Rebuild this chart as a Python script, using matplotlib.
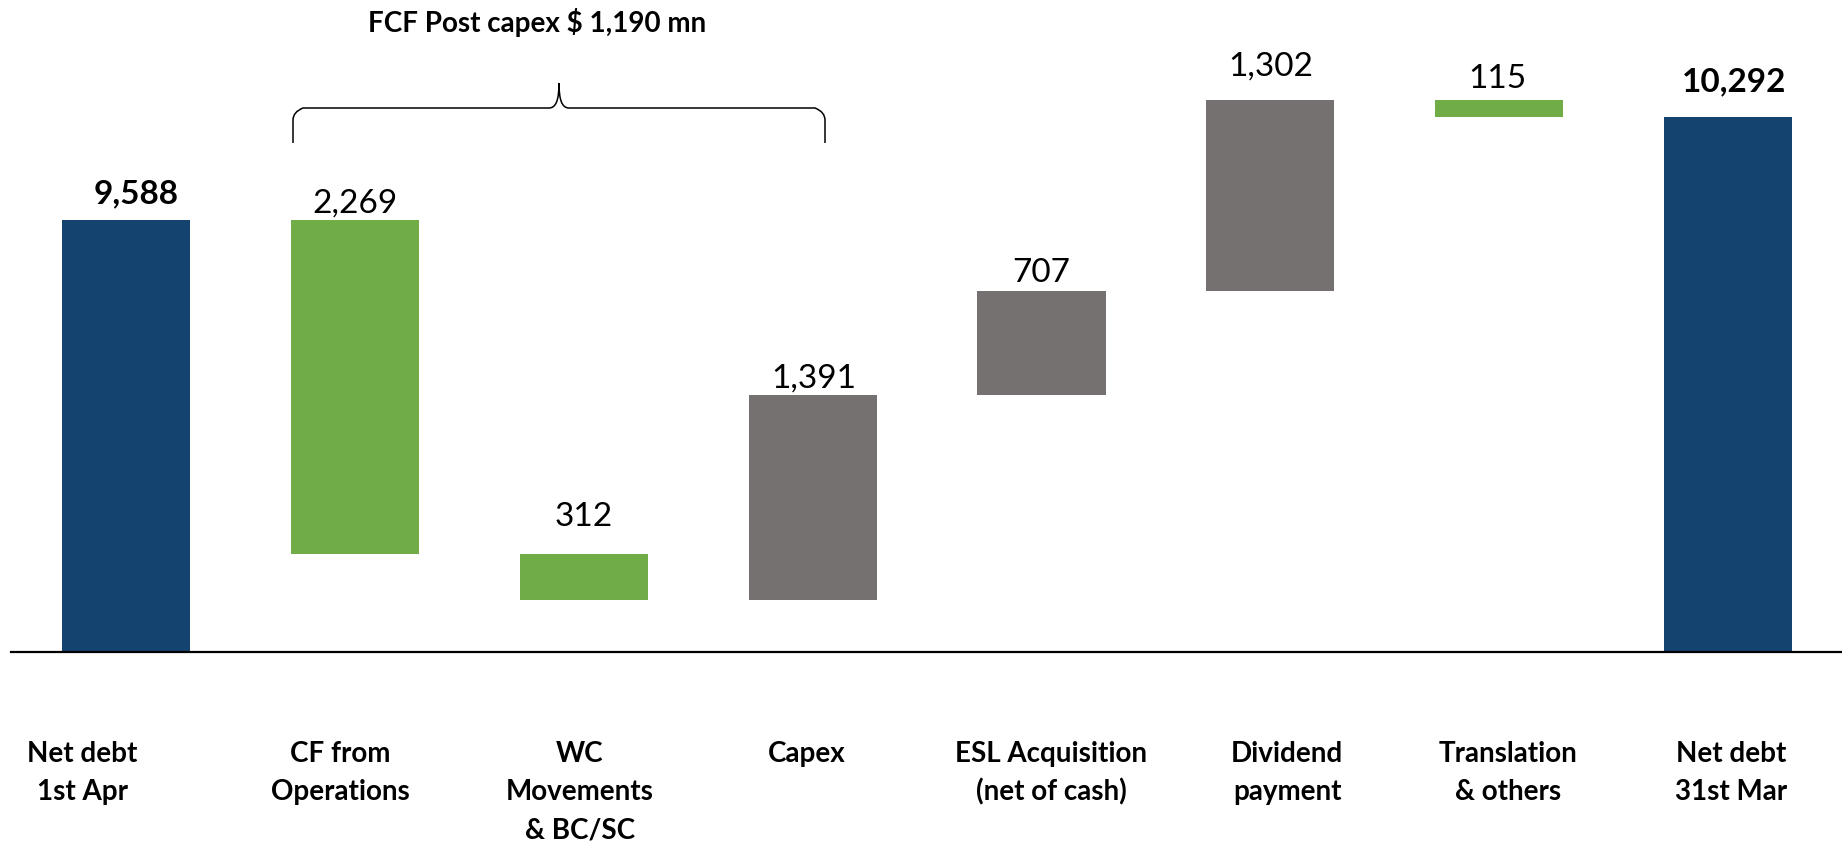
import numpy as np
import matplotlib
import matplotlib.pyplot as plt
from matplotlib.path import Path
from matplotlib.patches import PathPatch

matplotlib.use('Agg')
plt.rcParams['font.family'] = ['Lato', 'DejaVu Sans']

# data
categories = ["Net debt\n1st Apr", "CF from\nOperations", "WC\nMovements\n& BC/SC", "Capex",
              "ESL Acquisition\n(net of cash)", "Dividend\npayment", "Translation\n& others",
              "Net debt\n31st Mar"]
opening = 9588
changes = [-2269, -312, 1391, 707, 1302, -115]
closing = 10292
fcf_note = "FCF Post capex $ 1,190 mn"

navy = "#15436F"
green = "#70AD47"
grey = "#767171"

W, H = 1842, 843
fig = plt.figure(figsize=(W / 100, H / 100), dpi=100)
ax = fig.add_axes([11 / W, 1 - 652 / H, 1 - 11 / W, 652 / H])

levels = opening + np.cumsum([0] + changes)
x = np.arange(len(categories))
bw = 0.56

# totals
ax.bar(x[0], opening, width=bw, color=navy, zorder=2)
ax.bar(x[-1], closing, width=bw, color=navy, zorder=2)

# steps
tops = [opening]
for i, ch in enumerate(changes):
    lo = min(levels[i], levels[i + 1])
    ax.bar(x[i + 1], abs(ch), bottom=lo, width=bw,
           color=green if ch < 0 else grey, zorder=2)
    tops.append(max(levels[i], levels[i + 1]))
tops.append(closing)

values = [opening] + [abs(c) for c in changes] + [closing]
label_off = [12.5, 6, 20, 5.2, 6.7, 17.3, 8.6, 18.5]  # points above bar top
label_dx = [7, 0, 0, 1, 0, 0, -1, 4]
for i, v in enumerate(values):
    bold = i in (0, len(values) - 1)
    ax.annotate(f"{v:,}", (x[i], tops[i]), xytext=(label_dx[i], label_off[i]),
                textcoords='offset points', ha='center', va='baseline',
                fontsize=24, fontweight='bold' if bold else 'normal', color='black')

ax.set_xlim(-0.5025, 7.4975)
ax.set_ylim(6650, 11088)
for s in ['top', 'left', 'right']:
    ax.spines[s].set_visible(False)
ax.spines['bottom'].set_linewidth(1.6)
ax.spines['bottom'].set_zorder(3)
ax.set_xticks([])
ax.set_yticks([])

# category labels (figure pixels)
cat_x = [82, 340, 580, 807, 1051, 1287, 1508, 1731]
baselines = [762, 800, 838]
for cx, lab in zip(cat_x, categories):
    for j, line in enumerate(lab.split("\n")):
        fig.text(cx / W, 1 - baselines[j] / H, line, ha='center', va='baseline',
                 fontsize=20, fontweight='bold')


# bracket above the first three moves
def px(xp, yp):
    return (xp / W, 1 - yp / H)


verts = [px(293, 143), px(293, 120), px(293, 112), px(303, 108),
         px(549, 108),
         px(556, 108), px(559, 100), px(559, 83),
         px(559, 100), px(562, 108), px(569, 108),
         px(815, 108),
         px(825, 112), px(825, 120), px(825, 143)]
codes = [Path.MOVETO, Path.LINETO, Path.CURVE3, Path.CURVE3,
         Path.LINETO,
         Path.CURVE4, Path.CURVE4, Path.CURVE4,
         Path.CURVE4, Path.CURVE4, Path.CURVE4,
         Path.LINETO,
         Path.CURVE3, Path.CURVE3, Path.LINETO]
fig.patches.append(PathPatch(Path(verts, codes), facecolor='none', edgecolor='black',
                             lw=1.1, transform=fig.transFigure))
fig.text(537 / W, 1 - 32 / H, fcf_note, ha='center', va='baseline',
         fontsize=20, fontweight='bold')

fig.savefig("out.png", dpi=100, facecolor='white')
